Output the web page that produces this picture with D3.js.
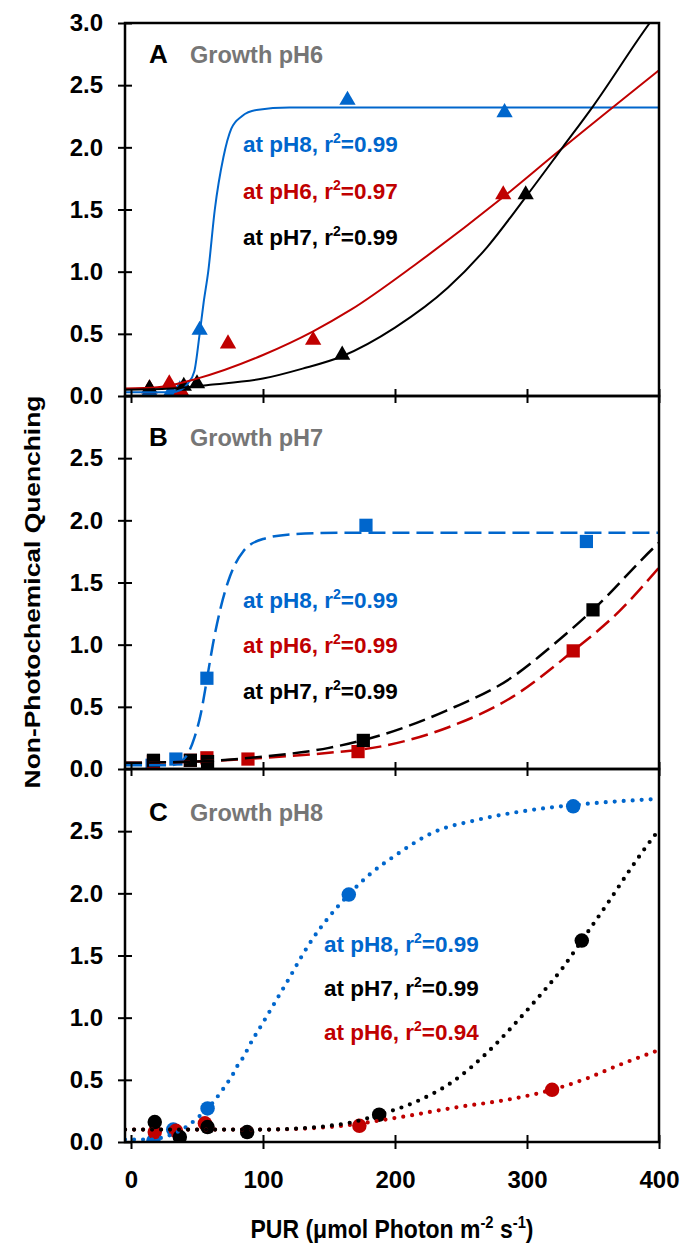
<!DOCTYPE html>
<html><head><meta charset="utf-8">
<script src="https://cdn.jsdelivr.net/npm/d3@7"></script>
<style>
html,body{margin:0;padding:0;background:#fff;}
text{font-family:"Liberation Sans",Arial,sans-serif;font-weight:bold;}
</style></head>
<body>
<script>
// ---------- DATA ----------
const xTicks = [0, 100, 200, 300, 400];
const yTicks = [0, 0.5, 1.0, 1.5, 2.0, 2.5, 3.0];

// Panel A (growth pH6) – triangles, solid fits
const aPH8 = [[14,0.04],[30,0.03],[37,0.05],[52,0.53],[164,2.38],[283,2.28]];
const aPH6 = [[14,0.06],[29,0.1],[38,0.04],[73.5,0.42],[138,0.45],[282,1.62]];
const aPH7 = [[14,0.06],[40,0.08],[50,0.1],[160,0.33],[299,1.62]];
const aFit8 = [[-4.5,0.03],[30,0.03],[38,0.05],[43,0.1],[48,0.2],[52,0.5],[55,0.75],[58.5,1.0],[63.5,1.5],[70,1.92],[76,2.15],[84,2.25],[95,2.3],[120,2.32],[400,2.32]];
const aFit6 = [[-4.5,0.06],[20,0.07],[50,0.14],[100,0.33],[138,0.52],[166,0.69],[217,1.07],[282,1.6],[323,1.96],[400,2.62]];
const aFit7 = [[-4.5,0.05],[30,0.06],[60,0.09],[100,0.14],[130,0.22],[160,0.32],[200,0.55],[240,0.87],[270,1.2],[299,1.6],[327,2.0],[350,2.33],[393,3.0],[400,3.1]];

// Panel B (growth pH7) – squares, dashed fits
const bPH8 = [[16,0.03],[34,0.08],[57.5,0.73],[178,1.96],[345,1.83]];
const bPH6 = [[17,0.06],[45,0.07],[57.5,0.09],[88.6,0.08],[172,0.14],[335,0.95]];
const bPH7 = [[17,0.07],[45,0.07],[58,0.06],[176,0.23],[350,1.28]];
const bFit8 = [[-4.5,0.03],[30,0.03],[40,0.08],[48,0.25],[53,0.45],[57.5,0.72],[62,1.0],[68,1.3],[75,1.55],[85,1.75],[100,1.85],[125,1.89],[160,1.9],[400,1.9]];
const bFit6 = [[-4.5,0.05],[50,0.06],[100,0.09],[150,0.13],[188.6,0.18],[239,0.33],[289,0.58],[335,0.95],[370,1.27],[400,1.62]];
const bFit7 = [[-4.5,0.05],[50,0.06],[100,0.1],[150,0.17],[188.6,0.27],[239,0.47],[289,0.74],[320,1.0],[350,1.28],[397,1.79],[400,1.82]];

// Panel C (growth pH8) – circles, dotted fits
const cPH8 = [[17,0.01],[32,0.1],[58,0.27],[165,1.99],[335,2.7]];
const cPH6 = [[18,0.08],[34,0.09],[56,0.15],[173,0.13],[319,0.42]];
const cPH7 = [[18,0.16],[37,0.04],[58,0.12],[88,0.08],[188,0.22],[341.5,1.62]];
const cFit8 = [[-4.5,0.02],[15,0.02],[25,0.04],[35,0.08],[43,0.13],[50,0.19],[58,0.27],[63,0.33],[68,0.4],[72.7,0.47],[77.5,0.55],[81,0.62],[85.6,0.69],[89.4,0.77],[100,0.96],[110,1.14],[120,1.32],[128,1.47],[138,1.64],[150,1.81],[165,1.99],[179.5,2.14],[201,2.31],[229,2.49],[262,2.59],[310,2.68],[335,2.71],[400,2.76]];
const cFit6 = [[-4.5,0.1],[60,0.1],[100,0.1],[150,0.12],[204,0.2],[247,0.28],[285,0.34],[319,0.42],[345,0.51],[370,0.62],[395,0.72],[400,0.74]];
const cFit7 = [[-4.5,0.1],[60,0.1],[100,0.1],[128,0.11],[150,0.13],[168,0.16],[188,0.22],[215,0.32],[243,0.48],[270,0.72],[289,0.93],[307.5,1.15],[327,1.4],[341.5,1.62],[363,1.95],[378,2.19],[397,2.47],[400,2.51]];

const colors = {pH8:"#0066CC", pH6:"#C00000", pH7:"#000000"};

const panels = [
  {letter:"A", growth:"Growth pH6", symbol:d3.symbolTriangle, size:115, dash:null, width:2,
   series:[{k:"pH8",pts:aPH8,fit:aFit8},{k:"pH6",pts:aPH6,fit:aFit6},{k:"pH7",pts:aPH7,fit:aFit7}],
   legend:[["pH8","0.99"],["pH6","0.97"],["pH7","0.99"]], lx:243, ly:[152,199,245], labY:63, top3:true},
  {letter:"B", growth:"Growth pH7", symbol:d3.symbolSquare, size:175, dash:"17,7", width:2.5,
   series:[{k:"pH8",pts:bPH8,fit:bFit8},{k:"pH6",pts:bPH6,fit:bFit6},{k:"pH7",pts:bPH7,fit:bFit7}],
   legend:[["pH8","0.99"],["pH6","0.99"],["pH7","0.99"]], lx:243, ly:[608,653,699], labY:446, top3:false},
  {letter:"C", growth:"Growth pH8", symbol:d3.symbolCircle, size:165, dash:"0,9", width:4.2,
   series:[{k:"pH8",pts:cPH8,fit:cFit8},{k:"pH6",pts:cPH6,fit:cFit6},{k:"pH7",pts:cPH7,fit:cFit7}],
   legend:[["pH8","0.99"],["pH7","0.99"],["pH6","0.94"]], lx:324, ly:[952,996,1040], labY:821, top3:false}
];

// ---------- LAYOUT ----------
const W = 684, H = 1247;
const left = 125, right = 659;
const panelTops = [23, 396, 769], panelH = 373;

const svg = d3.select("body").append("svg").attr("width", W).attr("height", H);
const x = d3.scaleLinear().domain([-4.545, 400]).range([left, right]);

panels.forEach((p, i) => {
  const top = panelTops[i], bottom = top + panelH;
  const y = d3.scaleLinear().domain([0, 3]).range([bottom, top]);
  const g = svg.append("g");
  const clipId = "clip" + i;
  svg.append("clipPath").attr("id", clipId).append("rect")
     .attr("x", left).attr("y", top).attr("width", right - left).attr("height", panelH);

  const mg = g.append("g").attr("clip-path", `url(#${clipId})`);
  const lineGen = d3.line().x(d => x(d[0])).y(d => y(d[1])).curve(d3.curveMonotoneX);
  p.series.forEach(s => {
    mg.selectAll(null).data(s.pts).enter().append("path")
      .attr("d", d3.symbol().type(p.symbol).size(p.size))
      .attr("transform", d => `translate(${x(d[0])},${y(d[1])})`)
      .attr("fill", colors[s.k]);
  });
  p.series.forEach(s => {
    const path = mg.append("path").datum(s.fit).attr("d", lineGen)
      .attr("fill", "none").attr("stroke", colors[s.k]).attr("stroke-width", p.width);
    if (p.dash) path.attr("stroke-dasharray", p.dash);
    if (i === 2) path.attr("stroke-linecap", "round");
  });

  g.append("rect").attr("x", left).attr("y", top).attr("width", right - left).attr("height", panelH)
    .attr("fill", "none").attr("stroke", "#000").attr("stroke-width", 2.5);

  const yt = p.top3 ? yTicks : yTicks.filter(v => v < 3);
  const yAxis = d3.axisLeft(y).tickValues(yt).tickSizeInner(7).tickSizeOuter(0).tickPadding(15)
                  .tickFormat(d3.format(".1f"));
  const ya = g.append("g").attr("transform", `translate(${left},0)`).call(yAxis);
  ya.select(".domain").remove();
  ya.selectAll(".tick line").attr("x1", -7).attr("x2", 7).attr("stroke-width", 2);
  ya.selectAll(".tick text").attr("font-size", 24).attr("fill", "#000")
    .attr("font-family", "Liberation Sans, Arial, sans-serif").attr("font-weight", "bold");

  const xAxis = d3.axisBottom(x).tickValues(xTicks).tickSizeInner(7).tickSizeOuter(0).tickPadding(22);
  if (i < 2) xAxis.tickFormat("");
  const xa = g.append("g").attr("transform", `translate(0,${bottom})`).call(xAxis);
  xa.select(".domain").remove();
  xa.selectAll(".tick line").attr("y1", -7).attr("y2", 7).attr("stroke-width", 2);
  xa.selectAll(".tick text").attr("font-size", 24).attr("fill", "#000")
    .attr("font-family", "Liberation Sans, Arial, sans-serif").attr("font-weight", "bold");

  g.append("text").attr("x", 149).attr("y", p.labY).attr("font-size", 26).attr("fill", "#000").text(p.letter);
  g.append("text").attr("x", 190).attr("y", p.labY).attr("font-size", 23.5).attr("fill", "#767676").text(p.growth);

  p.legend.forEach((l, j) => {
    const t = g.append("text").attr("x", p.lx).attr("y", p.ly[j]).attr("font-size", 22.5).attr("fill", colors[l[0]]);
    t.append("tspan").text(`at ${l[0]}, r`);
    t.append("tspan").attr("font-size", 14).attr("dy", -9).text("2");
    t.append("tspan").attr("dy", 9).text("=" + l[1]);
  });
});

// axis titles
svg.append("text").attr("transform", `translate(32,592) rotate(-90) scale(1.2,1)`).attr("text-anchor", "middle")
  .attr("dy", "0.35em").attr("font-size", 22).attr("fill", "#000").text("Non-Photochemical Quenching");
const xt = svg.append("text").attr("transform", `translate(${(left + right) / 2},1238) scale(0.92,1)`)
  .attr("text-anchor", "middle").attr("font-size", 25).attr("fill", "#000");
xt.append("tspan").text("PUR (\u03bcmol Photon m");
xt.append("tspan").attr("font-size", 16).attr("dy", -10).text("-2");
xt.append("tspan").attr("dy", 10).text(" s");
xt.append("tspan").attr("font-size", 16).attr("dy", -10).text("-1");
xt.append("tspan").attr("dy", 10).text(")");
</script>
</body></html>
